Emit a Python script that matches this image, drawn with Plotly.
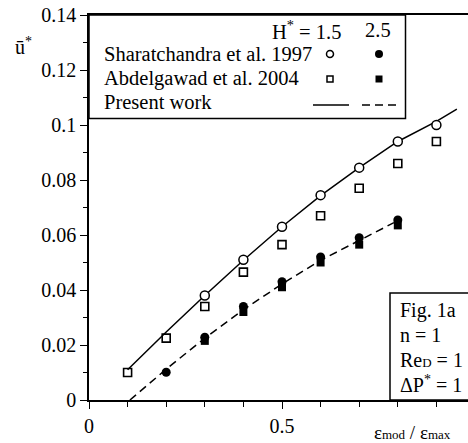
import plotly.graph_objects as go

# ---- data ----
x_sh15 = [0.3, 0.4, 0.5, 0.6, 0.7, 0.8, 0.9]
y_sh15 = [0.038, 0.051, 0.063, 0.0745, 0.0845, 0.094, 0.100]

x_ab15 = [0.1, 0.2, 0.3, 0.4, 0.5, 0.6, 0.7, 0.8, 0.9]
y_ab15 = [0.010, 0.0225, 0.034, 0.0465, 0.0565, 0.067, 0.077, 0.086, 0.094]

x_sh25 = [0.2, 0.3, 0.4, 0.5, 0.6, 0.7, 0.8]
y_sh25 = [0.0101, 0.0228, 0.034, 0.043, 0.052, 0.059, 0.0655]

x_ab25 = [0.3, 0.4, 0.5, 0.6, 0.7, 0.8]
y_ab25 = [0.0215, 0.032, 0.041, 0.050, 0.0565, 0.0635]

x_pw15 = [0.1, 0.2, 0.3, 0.4, 0.5, 0.6, 0.7, 0.8, 0.9, 0.953]
y_pw15 = [0.011, 0.0247, 0.038, 0.0508, 0.063, 0.0743, 0.0845, 0.094, 0.1013, 0.1058]

x_pw25 = [0.106, 0.2, 0.3, 0.4, 0.5, 0.6, 0.7, 0.79]
y_pw25 = [0.0, 0.0112, 0.0225, 0.0328, 0.0422, 0.0508, 0.058, 0.0645]

legend_rows = ["Sharatchandra et al. 1997", "Abdelgawad et al. 2004", "Present work"]
info_lines = ["Fig. 1a", "n = 1",
              "Re<span style='font-size:13px'>D</span> = 1",
              "ΔP<sup>*</sup> = 1"]

FONT = "Liberation Serif, Times New Roman, serif"
FS = 20
W, H = 468, 443
L, R, T, B = 89, 0, 15, 43
PW, PH = W - L - R, H - T - B


def px(xp):
    return (xp - L) / PW


def py(yp):
    return (H - B - yp) / PH


fig = go.Figure()
fig.add_trace(go.Scatter(x=x_pw15, y=y_pw15, mode="lines",
                         line=dict(color="black", width=1.5), showlegend=False))
fig.add_trace(go.Scatter(x=x_pw25, y=y_pw25, mode="lines",
                         line=dict(color="black", width=1.5, dash="8px,5px"), showlegend=False))
fig.add_trace(go.Scatter(x=x_ab15, y=y_ab15, mode="markers",
                         marker=dict(symbol="square-open", size=8, color="black",
                                     line=dict(width=1.6)), showlegend=False))
fig.add_trace(go.Scatter(x=x_sh15, y=y_sh15, mode="markers",
                         marker=dict(symbol="circle", size=9, color="white",
                                     line=dict(width=1.5, color="black")), showlegend=False))
fig.add_trace(go.Scatter(x=x_ab25, y=y_ab25, mode="markers",
                         marker=dict(symbol="square", size=8, color="black",
                                     line=dict(width=0)), showlegend=False))
fig.add_trace(go.Scatter(x=x_sh25, y=y_sh25, mode="markers",
                         marker=dict(symbol="circle", size=9, color="black",
                                     line=dict(width=0)), showlegend=False))

shapes = []
annotations = []

# legend box
shapes.append(dict(type="rect", xref="paper", yref="paper",
                   x0=px(89), x1=px(405.5), y0=py(118.5), y1=py(15),
                   line=dict(color="black", width=1.5), fillcolor="white", layer="below"))
# info box
shapes.append(dict(type="rect", xref="paper", yref="paper",
                   x0=px(390), x1=px(475), y0=py(400), y1=py(293),
                   line=dict(color="black", width=1.5), fillcolor="white", layer="below"))

tf = dict(size=FS, family=FONT, color="black")
lf = dict(size=20.5, family=FONT, color="black")

# legend header
annotations.append(dict(text="H<sup>*</sup> = 1.5", xref="paper", yref="paper",
                        x=px(343), y=py(30), xanchor="right", yanchor="middle",
                        showarrow=False, font=lf))
annotations.append(dict(text="2.5", xref="paper", yref="paper",
                        x=px(378), y=py(30), xanchor="center", yanchor="middle",
                        showarrow=False, font=lf))
row_y = [54, 78, 102]
for txt, yy in zip(legend_rows, row_y):
    annotations.append(dict(text=txt, xref="paper", yref="paper",
                            x=px(102), y=py(yy), xanchor="left", yanchor="middle",
                            showarrow=False, font=lf))


def sym(kind, cx, cy, filled, size):
    h = size / 2
    return dict(type=kind, xref="paper", yref="paper",
                xsizemode="pixel", ysizemode="pixel",
                xanchor=px(cx), yanchor=py(cy),
                x0=-h, x1=h, y0=-h, y1=h,
                line=dict(color="black", width=1.5 if not filled else 0),
                fillcolor="black" if filled else "white")


shapes.append(sym("circle", 330, 54, False, 7))
shapes.append(sym("circle", 379, 54, True, 8))
shapes.append(sym("rect", 330, 79, False, 6))
shapes.append(sym("rect", 379, 79, True, 7))
shapes.append(dict(type="line", xref="paper", yref="paper",
                   x0=px(313), x1=px(349), y0=py(105), y1=py(105),
                   line=dict(color="black", width=1.5)))
shapes.append(dict(type="line", xref="paper", yref="paper",
                   x0=px(362), x1=px(398), y0=py(105), y1=py(105),
                   line=dict(color="black", width=1.5, dash="8px,5px")))

# info text
for txt, yy in zip(info_lines, [310, 335, 360, 384]):
    annotations.append(dict(text=txt, xref="paper", yref="paper",
                            x=px(398), y=py(yy), xanchor="left", yanchor="middle",
                            showarrow=False, font=tf))

# axis titles
annotations.append(dict(text="ū<sup>*</sup>", xref="paper", yref="paper",
                        x=px(23), y=py(46), xanchor="center", yanchor="middle",
                        showarrow=False, font=tf))
annotations.append(dict(text="ε<span style='font-size:13px'>mod</span> / ε<span style='font-size:13px'>max</span>",
                        xref="paper", yref="paper",
                        x=px(412), y=py(432), xanchor="center", yanchor="middle",
                        showarrow=False, font=dict(size=19, family=FONT, color="black")))

fig.update_layout(
    width=W, height=H,
    margin=dict(l=L, r=R, t=T, b=B, pad=0),
    paper_bgcolor="white", plot_bgcolor="white",
    font=dict(family=FONT, size=FS, color="black"),
    shapes=shapes, annotations=annotations,
    showlegend=False,
)
fig.update_xaxes(range=[0, PW / 386], showgrid=False, zeroline=False,
                 showline=True, linecolor="black", linewidth=1.5, mirror=True,
                 ticks="outside", ticklen=7, tickwidth=1.2, tickcolor="black",
                 tickvals=[0, 0.5], ticktext=["0", "0.5"],
                 minor=dict(dtick=0.1, tick0=0, ticks="outside", ticklen=5,
                            tickwidth=1.2, tickcolor="black", showgrid=False),
                 tickfont=tf)
fig.update_yaxes(range=[0, 0.14], showgrid=False, zeroline=False,
                 showline=True, linecolor="black", linewidth=1.5,
                 ticks="outside", ticklen=7, tickwidth=1.2, tickcolor="black",
                 dtick=0.02, tick0=0,
                 minor=dict(dtick=0.01, tick0=0, ticks="outside", ticklen=4,
                            tickwidth=1.2, tickcolor="black", showgrid=False),
                 tickfont=tf)

fig.write_html("out.html")
